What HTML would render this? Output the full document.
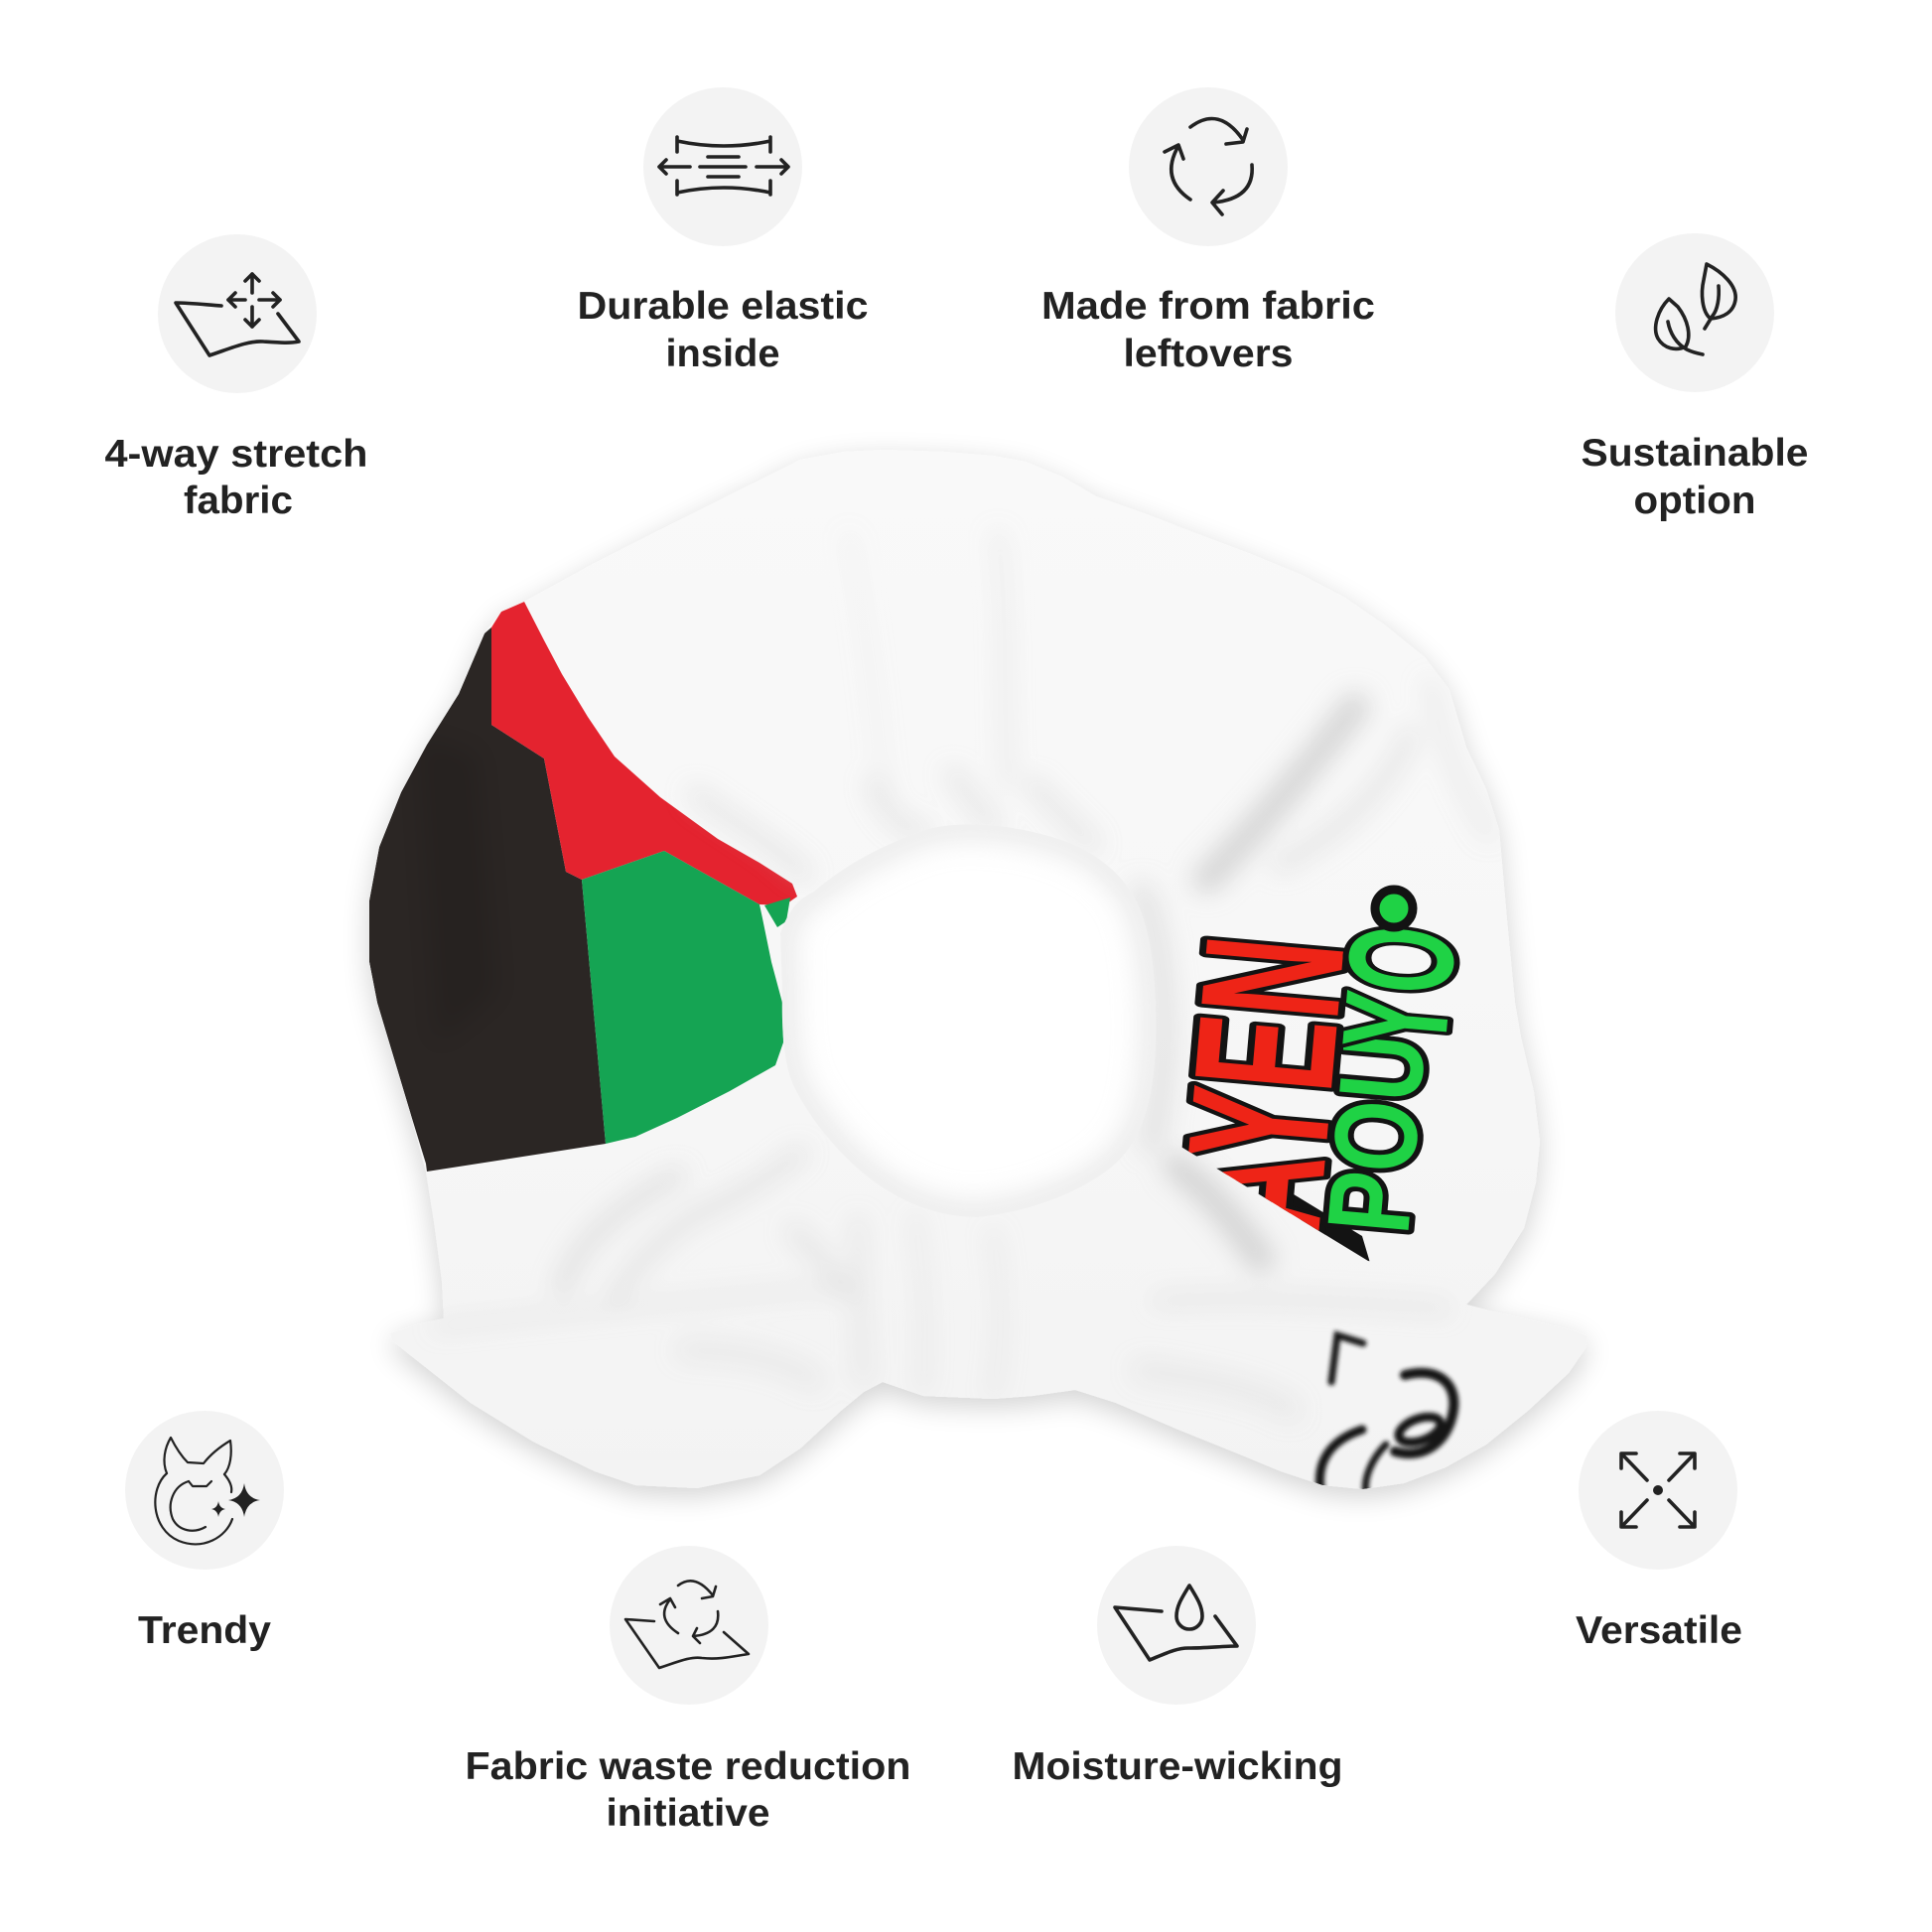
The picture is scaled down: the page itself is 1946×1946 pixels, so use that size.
<!DOCTYPE html>
<html>
<head>
<meta charset="utf-8">
<style>
html,body{margin:0;padding:0;background:#fff;}
svg{display:block;}
.lbl{font-family:"Liberation Sans",Arial,sans-serif;font-weight:700;font-size:39px;fill:#222;}
.ic{fill:none;stroke:#222;stroke-width:3.6;stroke-linecap:round;stroke-linejoin:round;}
.ict{fill:none;stroke:#222;stroke-width:2.2;stroke-linecap:round;stroke-linejoin:round;}
.gr{font-family:"Liberation Sans Narrow","Liberation Sans",Arial,sans-serif;font-weight:700;paint-order:stroke;stroke:#131313;stroke-linejoin:round;}
</style>
</head>
<body>
<svg width="1946" height="1946" viewBox="0 0 1946 1946" xmlns="http://www.w3.org/2000/svg">
<defs>
  <filter id="ds" x="-20%" y="-20%" width="140%" height="150%">
    <feGaussianBlur in="SourceAlpha" stdDeviation="14"/>
    <feOffset dx="0" dy="8"/>
    <feComponentTransfer><feFuncA type="linear" slope="0.18"/></feComponentTransfer>
    <feMerge><feMergeNode/><feMergeNode in="SourceGraphic"/></feMerge>
  </filter>
  <filter id="b10" x="-30%" y="-30%" width="160%" height="160%"><feGaussianBlur stdDeviation="12"/></filter>
  <filter id="b14" x="-20%" y="-20%" width="140%" height="140%"><feGaussianBlur stdDeviation="14"/></filter>
  <filter id="b2" x="-20%" y="-20%" width="140%" height="140%"><feGaussianBlur stdDeviation="2"/></filter>
  <linearGradient id="fab" x1="0" y1="0" x2="0" y2="1">
    <stop offset="0" stop-color="#f9f9f9"/>
    <stop offset="0.5" stop-color="#f7f7f7"/>
    <stop offset="1" stop-color="#f3f3f3"/>
  </linearGradient>
  <path id="silp" d="M505,616 L528,606 L599,567 L682,525 L764,484 L806,463 L850,455 L889,453 L951,455 L1000,459 L1033,465 L1070,480 L1104,500 L1155,518 L1207,538 L1260,558 L1311,579 L1355,602 L1394,629 L1435,662 L1460,695 L1477,753 L1497,795 L1510,836 L1518,927 L1526,1010 L1532,1045 L1545,1100 L1551,1150 L1547,1191 L1535,1237 L1506,1283 L1477,1314 L1500,1320 L1539,1329 L1585,1340 L1599,1346 L1597,1358 L1580,1383 L1539,1421 L1497,1455 L1456,1478 L1414,1494 L1373,1500 L1332,1496 L1290,1482 L1249,1465 L1187,1440 L1124,1413 L1083,1400 L1040,1406 L1000,1409 L930,1406 L889,1392 L870,1402 L847,1421 L806,1459 L765,1486 L702,1499 L640,1496 L599,1482 L537,1452 L474,1413 L412,1364 L395,1350 L393,1343 L420,1334 L447,1328 L445,1290 L437,1230 L429,1180 L413,1120 L395,1060 L380,1010 L372,969 L372,907 L382,853 L404,798 L430,750 L462,699 L488,638 Z"/>
  <clipPath id="sil"><use href="#silp"/></clipPath>
  <path id="holep" d="M786,940 C795,915 805,905 820,898 C850,872 890,850 935,835 C975,825 1030,832 1075,848 C1110,862 1135,885 1148,915 C1162,950 1165,1000 1164,1050 C1162,1110 1150,1150 1120,1175 C1090,1200 1040,1220 985,1226 C940,1226 900,1207 870,1182 C840,1157 815,1125 800,1095 C790,1075 787,1040 788,1000 Z"/>
  <clipPath id="holec"><use href="#holep"/></clipPath>
  <clipPath id="txtc"><path d="M1168,880 L1570,880 L1570,1300 L1378,1270 L1165,1140 Z"/></clipPath>
  <clipPath id="tailc"><path d="M1300,1325 L1539,1329 L1585,1340 L1599,1346 L1597,1358 L1580,1383 L1539,1421 L1497,1455 L1456,1478 L1414,1494 L1373,1500 L1332,1496 L1300,1485 Z"/></clipPath>
</defs>

<!-- icon circles -->
<g fill="#f3f3f3">
  <circle cx="239" cy="316" r="80"/>
  <circle cx="728" cy="168" r="80"/>
  <circle cx="1217" cy="168" r="80"/>
  <circle cx="1707" cy="315" r="80"/>
  <circle cx="206" cy="1501" r="80"/>
  <circle cx="694" cy="1637" r="80"/>
  <circle cx="1185" cy="1637" r="80"/>
  <circle cx="1670" cy="1501" r="80"/>
</g>

<!-- 4-way stretch -->
<g class="ic">
  <path d="M223,308 C208,307 192,305 177,305 L211,358 C232,351 250,343 265,344 C280,345 292,346 301,344 L280,316"/>
  <path d="M254,276 L254,295 M254,309 L254,329 M230,302 L247,302 M261,302 L282,302"/>
  <path d="M247,283 L254,276 L261,283 M247,322 L254,329 L261,322 M237,295 L230,302 L237,309 M275,295 L282,302 L275,309"/>
</g>
<!-- Durable elastic -->
<g class="ic">
  <path d="M682,142 Q729,152 776,142 M682,138 L682,153 M776,138 L776,153"/>
  <path d="M682,194 Q729,184 776,194 M682,182 L682,196 M776,182 L776,196"/>
  <path d="M664,168 L695,168 M671,161 L664,168 L671,175 M762,168 L794,168 M787,161 L794,168 L787,175"/>
  <path d="M713,158 L744,158 M705,168 L751,168 M713,178 L744,178"/>
</g>
<!-- Made from fabric leftovers -->
<g class="ic">
  <path d="M1199,128 Q1228,106 1252,141 M1235,145 L1252,143 L1256,130"/>
  <path d="M1199,201 Q1168,180 1187,147 M1173,153 L1187,146 L1192,160"/>
  <path d="M1261,166 Q1264,200 1222,204 M1232,192 L1221,204 L1231,216"/>
</g>
<!-- Sustainable -->
<g class="ic">
  <path d="M1719,266 C1735,274 1750,288 1748,302 C1746,315 1735,320 1723,321 C1714,314 1713,295 1716,282 Z"/>
  <path d="M1731,288 C1732,300 1730,312 1725,318 L1717,331"/>
  <path d="M1681,301 C1670,312 1664,330 1670,341 C1676,351 1688,354 1698,349 C1704,338 1700,322 1690,309 Z"/>
  <path d="M1680,324 C1682,335 1688,346 1699,352 C1705,355 1710,356 1715,357"/>
</g>
<!-- Trendy -->
<g class="ict">
  <path d="M168,1484 C150,1500 152,1540 180,1552 C205,1562 228,1548 234,1530"/>
  <path d="M226,1485 C232,1492 234,1498 233,1503"/>
  <path d="M168,1484 C163,1472 166,1458 172,1448 C178,1460 184,1468 189,1473 L205,1474 C212,1465 222,1457 232,1451 C234,1465 232,1478 226,1485"/>
  <path d="M190,1492 C174,1497 168,1515 174,1530 C180,1542 195,1545 207,1538"/>
  <path d="M190,1492 L194,1497 L208,1497 L213,1492"/>
</g>
<path fill="#222" d="M246,1494 Q248,1509 262,1511 Q248,1513 246,1528 Q244,1513 230,1511 Q244,1509 246,1494 Z"/>
<path fill="#222" d="M220,1512 Q221,1519 227,1520 Q221,1521 220,1528 Q219,1521 213,1520 Q219,1519 220,1512 Z"/>
<!-- Fabric waste -->
<g class="ict" style="stroke-width:2.6">
  <path d="M659,1633 L630,1631 L664,1680 C680,1675 695,1668 707,1670 C725,1672 740,1668 754,1666 L729,1644"/>
  <path d="M683,1597 Q700,1584 718,1607 M707,1610 L718,1608 L721,1598"/>
  <path d="M683,1645 Q660,1630 675,1611 M665,1616 L675,1610 L680,1619"/>
  <path d="M723,1623 Q726,1646 698,1648 M702,1640 L698,1648 L705,1655"/>
</g>
<!-- Moisture-wicking -->
<g class="ic">
  <path d="M1170,1623 L1123,1619 L1158,1672 C1175,1665 1185,1660 1197,1660 C1215,1660 1232,1658 1246,1658 L1224,1628"/>
  <path d="M1198,1597 C1190,1610 1185,1618 1185,1628 A13,13 0 0 0 1211,1628 C1211,1618 1206,1610 1198,1597 Z"/>
</g>
<!-- Versatile -->
<g class="ic">
  <path d="M1659,1491 L1635,1466 M1681,1491 L1705,1466 M1659,1511 L1635,1536 M1681,1511 L1705,1536"/>
  <path d="M1633,1479 L1633,1464 L1648,1464 M1692,1464 L1707,1464 L1707,1479 M1633,1523 L1633,1538 L1648,1538 M1692,1538 L1707,1538 L1707,1523"/>
</g>
<circle cx="1670" cy="1501" r="5" fill="#222"/>

<!-- labels -->
<g class="lbl" text-anchor="middle">
  <text x="238" y="470" textLength="265" lengthAdjust="spacingAndGlyphs">4-way stretch</text>
  <text x="240" y="517" textLength="110" lengthAdjust="spacingAndGlyphs">fabric</text>
  <text x="728" y="321" textLength="293" lengthAdjust="spacingAndGlyphs">Durable elastic</text>
  <text x="728" y="369" textLength="115" lengthAdjust="spacingAndGlyphs">inside</text>
  <text x="1217" y="321" textLength="336" lengthAdjust="spacingAndGlyphs">Made from fabric</text>
  <text x="1217" y="369" textLength="171" lengthAdjust="spacingAndGlyphs">leftovers</text>
  <text x="1707" y="469" textLength="229" lengthAdjust="spacingAndGlyphs">Sustainable</text>
  <text x="1707" y="517" textLength="123" lengthAdjust="spacingAndGlyphs">option</text>
  <text x="206" y="1655" textLength="134" lengthAdjust="spacingAndGlyphs">Trendy</text>
  <text x="693" y="1792" textLength="449" lengthAdjust="spacingAndGlyphs">Fabric waste reduction</text>
  <text x="693" y="1839" textLength="165" lengthAdjust="spacingAndGlyphs">initiative</text>
  <text x="1186" y="1792" textLength="333" lengthAdjust="spacingAndGlyphs">Moisture-wicking</text>
  <text x="1671" y="1655" textLength="168" lengthAdjust="spacingAndGlyphs">Versatile</text>
</g>

<!-- scrunchie body -->
<use href="#silp" fill="url(#fab)" filter="url(#ds)"/>

<g clip-path="url(#sil)">
  <!-- flag -->
  <path fill="#2b2624" d="M495,632 L495,730 L548,764 L570,878 L586,886 L610,1152 L430,1180 L429,1172 L413,1120 L395,1060 L380,1010 L372,969 L372,907 L382,853 L404,798 L430,750 L462,699 L488,638 Z"/>
  <path fill="#e4232f" d="M528,606 L548,645 L566,679 L592,722 L619,762 L665,803 L723,845 L765,869 L798,890 L803,903 L790,912 L765,911 L669,857 L586,886 L570,878 L548,764 L495,730 L495,632 L505,616 Z"/>
  <path fill="#15a453" d="M586,886 L669,857 L765,911 L768,925 L777,969 L788,1010 L789,1050 L781,1073 L735,1099 L682,1126 L640,1145 L610,1152 Z"/>
  <path fill="#15a453" d="M770,912 L796,904 L792,928 L783,934 Z"/>
  <path fill="#000" opacity="0.10" filter="url(#b10)" d="M420,740 L480,760 L500,1000 L440,1050 Z"/>

  <!-- fabric shading (soft) -->
  <g fill="none" stroke="#c8c8c8" stroke-linecap="round" filter="url(#b10)">
    <path d="M1005,540 C1015,610 1010,690 1015,790" stroke-width="12" opacity="0.25"/>
    <path d="M855,540 C868,610 880,690 890,800" stroke-width="10" opacity="0.15"/>
    <path d="M700,800 C740,830 780,850 810,880" stroke-width="14" opacity="0.4"/>
    <path d="M880,790 C890,815 905,835 930,838" stroke-width="14" opacity="0.4"/>
    <path d="M960,780 C975,800 985,815 1000,830" stroke-width="14" opacity="0.4"/>
    <path d="M1040,790 C1060,810 1080,830 1100,850" stroke-width="14" opacity="0.4"/>
    <path d="M1365,712 C1320,770 1270,830 1216,885" stroke="#bdbdbd" stroke-width="30" opacity="0.55"/>
    <path d="M1420,740 C1400,790 1350,840 1290,870" stroke-width="18" opacity="0.35"/>
    <path d="M1150,900 C1175,960 1180,1060 1160,1150" stroke-width="24" opacity="0.4"/>
    <path d="M1440,690 C1455,760 1475,800 1500,840" stroke-width="14" opacity="0.25"/>
    <path d="M565,1298 C580,1260 600,1230 682,1184" stroke-width="14" opacity="0.5"/>
    <path d="M619,1306 C650,1260 690,1225 723,1214 C760,1195 790,1175 806,1161" stroke-width="12" opacity="0.45"/>
    <path d="M864,1230 C866,1280 866,1340 870,1390" stroke-width="10" opacity="0.4"/>
    <path d="M922,1225 C930,1280 935,1340 930,1400" stroke-width="8" opacity="0.3"/>
    <path d="M1000,1240 C1010,1300 1010,1360 1000,1405" stroke-width="8" opacity="0.3"/>
    <path d="M1185,1175 C1220,1200 1250,1240 1270,1268" stroke="#b5b5b5" stroke-width="28" opacity="0.5"/>
    <path d="M1166,1310 C1250,1305 1350,1310 1456,1318" stroke-width="10" opacity="0.4"/>
    <path d="M1150,1380 C1220,1390 1270,1400 1300,1420" stroke-width="20" opacity="0.25"/>
    <path d="M440,1336 C560,1322 700,1310 850,1295" stroke-width="8" opacity="0.35"/>
    <path d="M690,1360 C740,1360 790,1370 820,1390" stroke-width="18" opacity="0.25"/>
    <path d="M800,1240 C820,1260 840,1280 850,1300" stroke-width="16" opacity="0.35"/>
  </g>

  <!-- graffiti -->
  <g clip-path="url(#txtc)">
    <path fill="#131313" d="M1290,1195 L1372,1245 L1380,1272 L1320,1245 Z"/>
    <text class="gr" transform="translate(1328,1245) rotate(-85)" font-size="200" fill="#ee2417" stroke-width="14" textLength="295" lengthAdjust="spacingAndGlyphs">AYEN</text>
    <text class="gr" transform="translate(1418,1245) rotate(-85)" font-size="118" fill="#1fd245" stroke-width="12" textLength="200" lengthAdjust="spacingAndGlyphs">POU</text>
    <text class="gr" transform="translate(1455,1062) rotate(-85)" font-size="150" fill="#1fd245" stroke-width="12" textLength="125" lengthAdjust="spacingAndGlyphs">YO</text>
    <circle cx="1404" cy="915" r="19" fill="#1fd245" stroke="#131313" stroke-width="9"/>
  </g>

  <!-- black lettering on right tail -->
  <g clip-path="url(#tailc)" fill="none" stroke="#151515" stroke-linecap="round" filter="url(#b2)">
    <path d="M1373,1353 L1347,1345 L1341,1392" stroke-width="7"/>
    <path d="M1415,1385 C1450,1376 1470,1395 1463,1425 C1456,1455 1432,1470 1405,1462" stroke-width="10"/>
    <ellipse cx="1430" cy="1440" rx="22" ry="11" transform="rotate(-20 1430 1440)" stroke-width="9"/>
    <path d="M1372,1440 C1342,1450 1326,1470 1330,1500" stroke-width="9"/>
    <path d="M1396,1455 C1381,1470 1373,1490 1376,1505" stroke-width="7"/>
  </g>
</g>

<!-- hole -->
<use href="#holep" fill="#ffffff"/>
<g clip-path="url(#holec)">
  <use href="#holep" fill="none" stroke="#d6d6d6" stroke-width="30" opacity="0.5" filter="url(#b14)"/>
</g>
</svg>
</body>
</html>
